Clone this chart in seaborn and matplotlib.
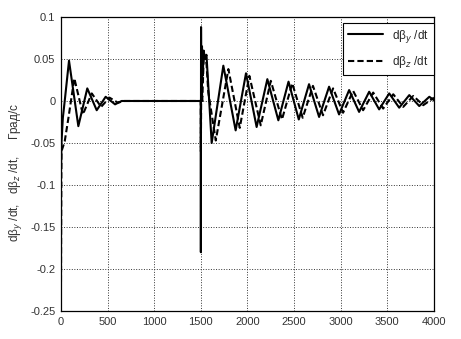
import pandas as pd
import matplotlib
matplotlib.use("Agg")
import matplotlib.pyplot as plt
import seaborn as sns

# dβy/dt (peaks, troughs and corners)
t_y = [0, 5, 20, 40, 86, 186, 282, 383, 479, 580, 650, 1000, 1499,
       1500, 1502, 1506, 1512, 1520, 1530, 1545, 1560, 1616, 1741,
       1873, 1984, 2098, 2213, 2331, 2440, 2550, 2660, 2768, 2875,
       2982, 3090, 3197, 3305, 3412, 3520, 3627, 3735, 3842, 3950, 4000]
v_y = [-0.085, -0.05, -0.02, 0.0, 0.048, -0.030, 0.015, -0.011, 0.005, -0.004, 0.0, 0.0, 0.0,
       -0.18, 0.088, 0.0, 0.065, 0.03, 0.06, 0.05, 0.055, -0.050, 0.042,
       -0.035, 0.033, -0.031, 0.026, -0.023, 0.023, -0.022, 0.020, -0.019, 0.017,
       -0.016, 0.013, -0.013, 0.011, -0.010, 0.009, -0.008, 0.007, -0.006, 0.005, 0.001]

# dβz/dt
t_z = [0, 5, 40, 80, 143, 235, 330, 430, 520, 610, 680, 1000, 1499,
       1500, 1505, 1515, 1530, 1560, 1580, 1660, 1795,
       1917, 2020, 2142, 2250, 2370, 2480, 2592, 2702, 2810, 2918,
       3025, 3133, 3240, 3348, 3455, 3563, 3670, 3778, 3885, 4000]
v_z = [-0.215, -0.06, -0.048, -0.02, 0.027, -0.016, 0.009, -0.007, 0.004, -0.002, 0.0, 0.0, 0.0,
       -0.06, 0.04, 0.0, 0.05, 0.045, 0.01, -0.047, 0.038,
       -0.032, 0.030, -0.029, 0.024, -0.022, 0.021, -0.020, 0.018, -0.017, 0.015,
       -0.014, 0.012, -0.011, 0.010, -0.009, 0.008, -0.007, 0.006, -0.005, 0.004]

x_ticks = [0, 500, 1000, 1500, 2000, 2500, 3000, 3500, 4000]
y_ticks = [-0.25, -0.2, -0.15, -0.1, -0.05, 0, 0.05, 0.1]
y_tick_labels = ["-0.25", "-0.2", "-0.15", "-0.1", "-0.05", "0", "0.05", "0.1"]

sns.set_style("white")
plt.rcParams["font.family"] = ["Liberation Sans", "DejaVu Sans"]

df_y = pd.DataFrame({"t": t_y, "v": v_y})
df_z = pd.DataFrame({"t": t_z, "v": v_z})

fig = plt.figure(figsize=(4.61, 3.39), dpi=100)
ax = fig.add_axes([0.1323, 0.0826, 0.9414 - 0.1323, 0.9499 - 0.0826])

sns.lineplot(data=df_y, x="t", y="v", ax=ax, color="black", lw=1.5,
             estimator=None, sort=False, label="dβ$_y$ /dt")
sns.lineplot(data=df_z, x="t", y="v", ax=ax, color="black", lw=1.5,
             linestyle=(0, (3, 1.5)), estimator=None, sort=False,
             label="dβ$_z$ /dt")

ax.set_xlim(0, 4000)
ax.set_ylim(-0.25, 0.1)
ax.set_xticks(x_ticks)
ax.set_yticks(y_ticks, y_tick_labels)
ax.tick_params(direction="in", length=3, width=0.6, labelsize=8,
               labelcolor="#333333", pad=4)
ax.grid(True, linestyle=":", color="#333333", lw=0.7)
for s in ax.spines.values():
    s.set_color("black")
    s.set_linewidth(0.9)

ax.set_xlabel("")
ax.set_ylabel("dβ$_y$ /dt,   dβ$_z$ /dt,     Град/с", fontsize=8.5,
              color="#333333")
ax.yaxis.set_label_coords(-0.10, 0.47)

leg = ax.legend(loc="upper right", bbox_to_anchor=(1.0, 0.98), borderaxespad=0,
                fontsize=8.5, handlelength=3.0, labelspacing=0.8,
                fancybox=False, framealpha=1, edgecolor="black")
leg.get_frame().set_linewidth(0.8)

fig.savefig("out.png", dpi=100)
